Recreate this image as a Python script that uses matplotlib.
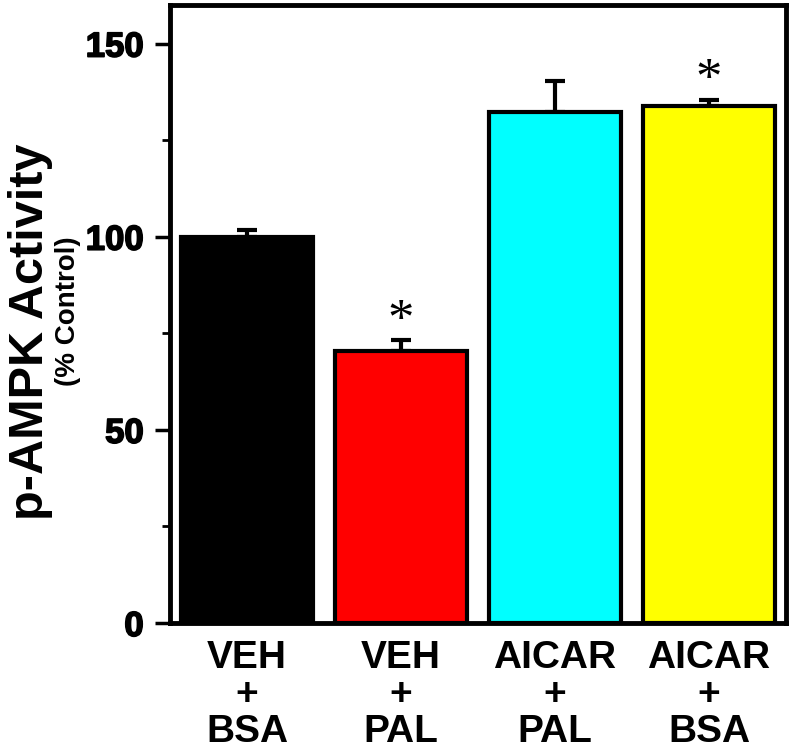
import matplotlib as mpl

mpl.use("Agg")
import matplotlib.pyplot as plt
import matplotlib.patheffects as pe
from matplotlib.ticker import MultipleLocator

# data
groups = ["VEH\n+\nBSA", "VEH\n+\nPAL", "AICAR\n+\nPAL", "AICAR\n+\nBSA"]
means = [100.0, 70.3, 132.2, 133.9]
sem = [1.8, 2.9, 8.0, 1.5]
colors = ["#000000", "#ff0000", "#00ffff", "#ffff00"]
star_y = [None, 78.0, None, 140.3]

FONT = "Liberation Sans"

fig = plt.figure(figsize=(7.92, 7.49), dpi=100)
ax = fig.add_axes([170 / 792, 126 / 749, 616 / 792, 618 / 749])

x = list(range(len(groups)))
ax.bar(
    x,
    means,
    width=0.86,
    color=colors,
    edgecolor="black",
    linewidth=3,
    zorder=3,
)
ax.errorbar(
    x,
    means,
    yerr=[[0] * len(sem), sem],
    fmt="none",
    ecolor="black",
    elinewidth=3,
    capsize=7.5,
    capthick=3,
    zorder=2,
)

# significance marks
for xi, sy in zip(x, star_y):
    if sy is not None:
        ax.text(xi, sy, "*", ha="center", va="center", fontsize=38,
                family="Liberation Serif")

ax.set_xlim(-0.5, 3.5)
ax.set_ylim(0, 160)
ax.yaxis.set_major_locator(MultipleLocator(50))
ax.yaxis.set_minor_locator(MultipleLocator(25))

for s in ax.spines.values():
    s.set_linewidth(3.5)

ax.tick_params(axis="y", which="major", length=11, width=2.5, pad=8, direction="out")
ax.tick_params(axis="y", which="minor", length=5.5, width=2, direction="out")
ax.tick_params(axis="x", length=0, pad=12)

ax.set_xticks(x)
ax.set_xticklabels(groups, fontsize=28, fontweight="bold", family=FONT,
                   linespacing=1.05)
for lbl in ax.get_yticklabels():
    lbl.set_fontsize(25)
    lbl.set_fontweight("bold")
    lbl.set_family(FONT)
    # heavier look, like the original's black digits
    lbl.set_path_effects([pe.withStroke(linewidth=1.2, foreground="black")])

fig.text(31 / 792, 1 - 332 / 749, "p-AMPK Activity", rotation=90, ha="center",
         va="center", fontsize=35, fontweight="bold", family=FONT)
fig.text(68 / 792, 1 - 311 / 749, "(% Control)", rotation=90, ha="center",
         va="center", fontsize=20, fontweight="bold", family=FONT)

fig.savefig("out.png", dpi=100)
